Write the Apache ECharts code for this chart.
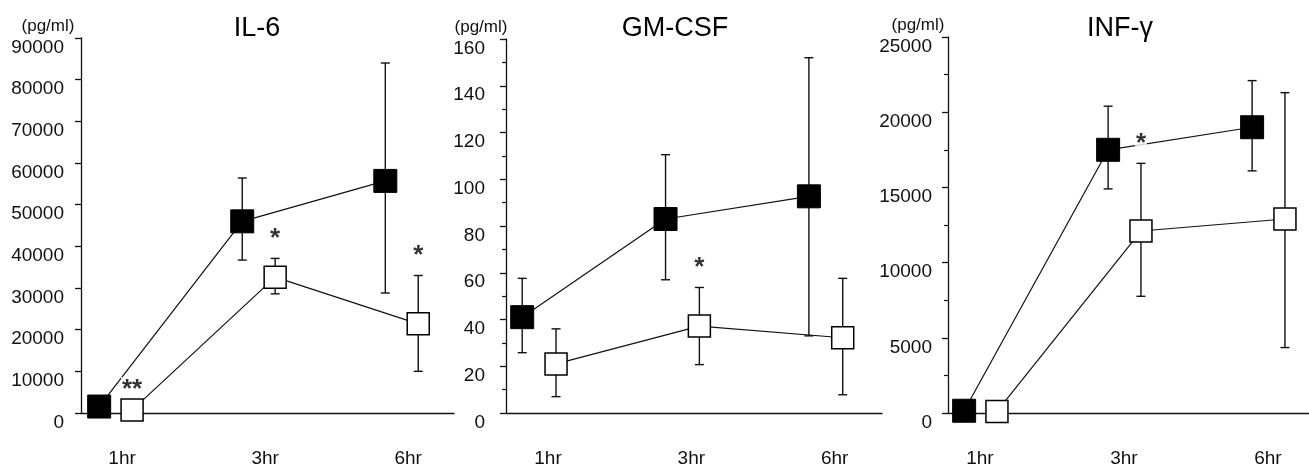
<!DOCTYPE html>
<html>
<head>
<meta charset="utf-8">
<script src="https://cdn.jsdelivr.net/npm/echarts@6/dist/echarts.min.js"></script>
<style>
  html, body { margin: 0; padding: 0; background: #fff; }
  #main { width: 1309px; height: 468px; }
</style>
</head>
<body>
<div id="main"></div>
<script>
const categories = ['1hr', '3hr', '6hr'];

// IL-6
const il6Filled = [1550, 46000, 55700];
const il6FilledLow = [null, 36700, 28800];
const il6FilledHigh = [null, 56400, 84000];
const il6Open = [700, 32600, 21400];
const il6OpenLow = [null, 28600, 10000];
const il6OpenHigh = [null, 37100, 33000];
const il6Sig = ['**', '*', '*'];

// GM-CSF
const gmFilled = [41, 83, 92.7];
const gmFilledLow = [25.8, 57, 33];
const gmFilledHigh = [57.6, 110.5, 152];
const gmOpen = [21, 37.2, 32.2];
const gmOpenLow = [7, 20.7, 7.8];
const gmOpenHigh = [36, 53.7, 57.6];
const gmSig = ['', '*', ''];

// INF-γ
const infFilled = [150, 17500, 19000];
const infFilledLow = [null, 14900, 16100];
const infFilledHigh = [null, 20400, 22100];
const infOpen = [100, 12100, 12900];
const infOpenLow = [null, 7760, 4350];
const infOpenHigh = [null, 16600, 21300];
const infSig = ['', '*', ''];

const FONT = 'Liberation Sans';
const INK = '#111';

const panels = [
    { title: 'IL-6', filled: il6Filled, fLow: il6FilledLow, fHigh: il6FilledHigh,
      open: il6Open, oLow: il6OpenLow, oHigh: il6OpenHigh, sig: il6Sig,
      grid: { left: 81, top: 38, width: 373, height: 378 },
      yMax: 90000, yStep: 10000, minor: false,
      xMin: -0.287, xMax: 2.32, dxFilled: -0.16, dxOpen: 0.07,
      labelMargin: 17, nameShift: 33, titleX: 252 },
    { title: 'GM-CSF', filled: gmFilled, fLow: gmFilledLow, fHigh: gmFilledHigh,
      open: gmOpen, oLow: gmOpenLow, oHigh: gmOpenHigh, sig: gmSig,
      grid: { left: 506, top: 39, width: 376, height: 378 },
      yMax: 160, yStep: 20, minor: true,
      xMin: -0.293, xMax: 2.33, dxFilled: -0.18, dxOpen: 0.056,
      labelMargin: 21, nameShift: 25, titleX: 670 },
    { title: 'INF-γ', filled: infFilled, fLow: infFilledLow, fHigh: infFilledHigh,
      open: infOpen, oLow: infOpenLow, oHigh: infOpenHigh, sig: infSig,
      grid: { left: 948, top: 37, width: 361, height: 380 },
      yMax: 25000, yStep: 5000, minor: true,
      xMin: -0.222, xMax: 2.285, dxFilled: -0.11, dxOpen: 0.118,
      labelMargin: 16, nameShift: 30, titleX: 1115 }
];

function errorBar(params, api) {
    const x = api.value(0);
    const lo = api.coord([x, api.value(1)]);
    const hi = api.coord([x, api.value(2)]);
    const cap = 4.5;
    const style = { stroke: INK, lineWidth: 1.4 };
    return {
        type: 'group',
        children: [
            { type: 'line', shape: { x1: lo[0], y1: lo[1], x2: hi[0], y2: hi[1] }, style: style },
            { type: 'line', shape: { x1: hi[0] - cap, y1: hi[1], x2: hi[0] + cap, y2: hi[1] }, style: style },
            { type: 'line', shape: { x1: lo[0] - cap, y1: lo[1], x2: lo[0] + cap, y2: lo[1] }, style: style }
        ]
    };
}

function barRows(low, high, dx) {
    const rows = [];
    low.forEach((l, k) => {
        if (l != null && high[k] != null) rows.push([k + dx, l, high[k]]);
    });
    return rows;
}

const option = {
    animation: false,
    backgroundColor: '#fff',
    title: [],
    grid: [],
    xAxis: [],
    yAxis: [],
    series: []
};

panels.forEach((p, i) => {
    option.title.push({
        text: p.title, left: p.titleX, top: 10, textAlign: 'center',
        textStyle: { fontFamily: FONT, fontSize: 27, fontWeight: 'normal', color: '#000' }
    });
    option.grid.push(Object.assign({ containLabel: false }, p.grid));
    option.xAxis.push({
        type: 'value', gridIndex: i, min: p.xMin, max: p.xMax,
        axisLine: { show: true, onZero: false, lineStyle: { color: INK, width: 1.3 } },
        axisTick: { show: false },
        splitLine: { show: false },
        axisLabel: {
            customValues: [0, 1, 2],
            formatter: (v) => categories[Math.round(v)],
            fontFamily: FONT, fontSize: 19, color: '#111', margin: 36
        }
    });
    option.yAxis.push({
        type: 'value', gridIndex: i, min: 0, max: p.yMax, interval: p.yStep,
        name: '(pg/ml)', nameLocation: 'end', nameGap: 3,
        nameTextStyle: {
            fontFamily: FONT, fontSize: 17, color: '#111', align: 'center',
            padding: [0, p.nameShift * 2, 0, 0]
        },
        axisLine: { show: true, onZero: false, lineStyle: { color: INK, width: 1.3 } },
        axisTick: { show: true, length: 6, lineStyle: { color: INK, width: 1.3 } },
        minorTick: { show: p.minor, splitNumber: 2, length: 4, lineStyle: { color: INK, width: 1.2 } },
        splitLine: { show: false },
        axisLabel: {
            fontFamily: FONT, fontSize: 19, color: '#111',
            verticalAlign: 'top', margin: p.labelMargin,
            formatter: (v) => String(v)
        }
    });

    option.series.push({
        type: 'custom', xAxisIndex: i, yAxisIndex: i, z: 1,
        renderItem: errorBar, data: barRows(p.fLow, p.fHigh, p.dxFilled)
    });
    option.series.push({
        type: 'custom', xAxisIndex: i, yAxisIndex: i, z: 1,
        renderItem: errorBar, data: barRows(p.oLow, p.oHigh, p.dxOpen)
    });
    option.series.push({
        type: 'line', xAxisIndex: i, yAxisIndex: i, z: 3, clip: false,
        data: p.filled.map((v, k) => [k + p.dxFilled, v]),
        symbol: 'rect', symbolSize: 23, showAllSymbol: true,
        itemStyle: { color: '#000', borderColor: '#000', borderWidth: 1 },
        lineStyle: { color: INK, width: 1.2 }
    });
    option.series.push({
        type: 'line', xAxisIndex: i, yAxisIndex: i, z: 4, clip: false,
        data: p.open.map((v, k) => [k + p.dxOpen, v]),
        symbol: 'rect', symbolSize: 22, showAllSymbol: true,
        itemStyle: { color: '#fff', borderColor: '#000', borderWidth: 1.5 },
        lineStyle: { color: INK, width: 1.2 }
    });
    const sigRows = [];
    p.sig.forEach((s, k) => {
        if (s) sigRows.push([k + p.dxOpen, p.oHigh[k] != null ? p.oHigh[k] : p.open[k], s]);
    });
    option.series.push({
        type: 'scatter', xAxisIndex: i, yAxisIndex: i, z: 6, clip: false,
        data: sigRows, symbol: 'rect', symbolSize: 0,
        itemStyle: { color: 'rgba(0,0,0,0)' },
        label: {
            show: true, position: 'top', distance: 7, offset: [0, -10],
            formatter: (q) => q.data[2],
            fontFamily: FONT, fontSize: 26, fontWeight: 'bold', lineHeight: 26, color: '#000',
            backgroundColor: '#fff', padding: [0, 1, -10, 1]
        }
    });
});

const chart = echarts.init(document.getElementById('main'));
chart.setOption(option);
</script>
</body>
</html>
